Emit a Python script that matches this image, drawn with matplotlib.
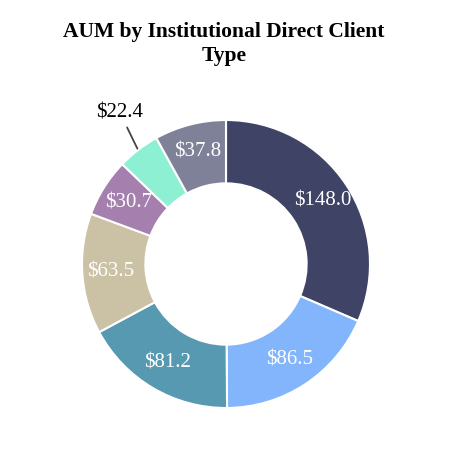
import numpy as np
import matplotlib.pyplot as plt

plt.rcParams['font.family'] = ['Liberation Serif', 'DejaVu Serif']

values = [148.0, 86.5, 81.2, 63.5, 30.7, 22.4, 37.8]
labels = ["$148.0", "$86.5", "$81.2", "$63.5", "$30.7", "$22.4", "$37.8"]
colors = ["#3f4466", "#82b5fb", "#5799b0", "#cbc1a4", "#a57fae", "#8ef0d2", "#7f8199"]
outside = "$22.4"

fig = plt.figure(figsize=(4.5, 4.5), dpi=100)
ax = fig.add_axes([82/450, 42/450, 288/450, 288/450])

wedges, _ = ax.pie(values, colors=colors, startangle=90, counterclock=False,
                   radius=1.0, wedgeprops=dict(width=0.44, edgecolor="white", linewidth=1.5))

for w, lab in zip(wedges, labels):
    ang = np.deg2rad((w.theta1 + w.theta2) / 2)
    dx, dy = np.cos(ang), np.sin(ang)
    if lab == outside:
        ax.annotate(lab, xy=(1.01*dx, 1.01*dy), xytext=(1.3*dx + 0.055, 1.3*dy + 0.02),
                    ha="center", va="center", fontsize=15, color="black",
                    arrowprops=dict(arrowstyle="-", color="#444444", lw=1.3, shrinkB=0, shrinkA=2))
    else:
        ax.text(0.8*dx, 0.8*dy, lab, ha="center", va="center", fontsize=15, color="white")

ax.set_xlim(-1, 1)
ax.set_ylim(-1, 1)
ax.set_aspect("equal")
ax.axis("off")

fig.text(0.497, 1 - 44/450, "AUM by Institutional Direct Client\nType", ha="center", va="center",
         fontsize=15.5, fontweight="bold", linespacing=1.25)

fig.savefig("out.png", dpi=100)
